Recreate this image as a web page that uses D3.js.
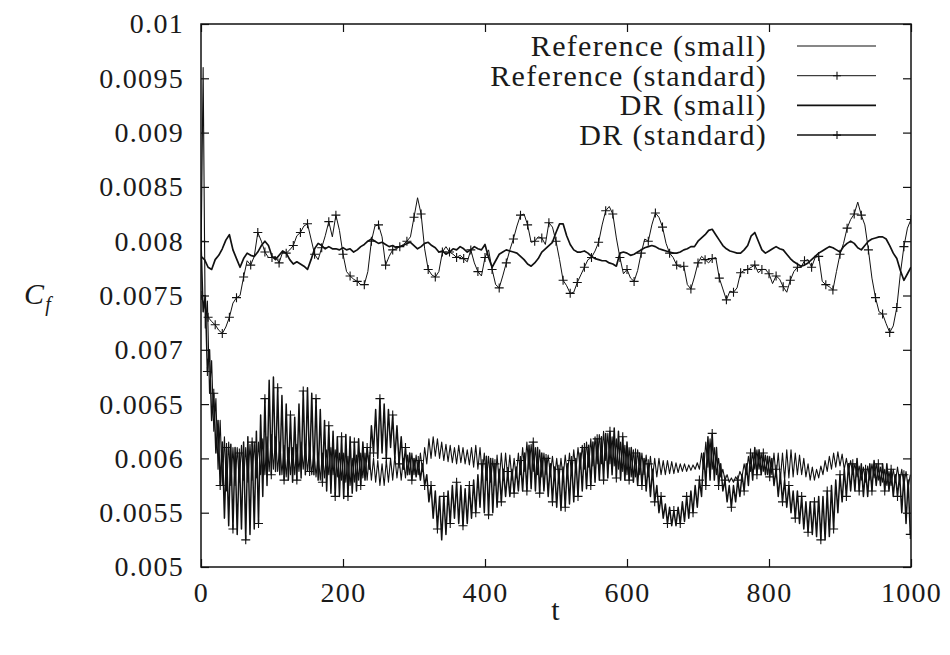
<!DOCTYPE html>
<html>
<head>
<meta charset="utf-8">
<script src="https://cdn.jsdelivr.net/npm/d3@7"></script>
<style>
  body { margin: 0; background: #fff; }
  text { font-family: "Liberation Serif", "Times New Roman", serif; fill: #1a1a1a; letter-spacing: 1.3px; }
</style>
</head>
<body>
<div id="chart"></div>
<script>
// all Cf series are stored as Cf x 10^4
var CF_UNIT = 1e-4;

// upper band, sampled every 5 time units (t = 0 .. 1000)
var drSmall = [
  78.6, 78.3, 77.6, 77.4, 78.3, 78.7, 79.3, 80.1, 80.6, 79.2,
  78.4, 77.6, 78.4, 78.9, 78.7, 78.6, 79.0, 79.6, 80.0, 79.6,
  78.6, 78.3, 78.7, 79.1, 78.9, 78.3, 77.9, 78.1, 77.9, 77.7,
  77.4, 78.3, 79.3, 79.8, 79.6, 79.3, 79.5, 79.3, 79.3, 79.2,
  79.4, 79.2, 79.3, 79.0, 79.2, 79.5, 79.7, 80.0, 80.2, 80.0,
  79.8, 79.9, 79.7, 79.5, 79.6, 79.4, 79.5, 79.6, 79.8, 79.9,
  79.6, 79.3, 79.5, 79.8, 79.9, 79.6, 79.4, 79.0, 79.1, 78.8,
  79.0, 79.3, 79.2, 79.5, 79.3, 79.0, 79.2, 79.5, 79.3, 79.2,
  79.7, 78.5, 77.6, 78.2, 78.8, 79.0, 79.2, 79.1, 79.0, 78.9,
  78.6, 78.3, 77.9, 77.7, 78.0, 78.4, 79.0, 79.3, 79.6, 79.9,
  80.8, 81.6, 81.6, 80.5, 79.7, 79.2, 79.0, 79.0, 79.1, 78.9,
  78.6, 78.4, 78.3, 78.2, 78.2, 78.0, 77.9, 77.7, 78.9, 79.0,
  78.9, 78.7, 78.8, 79.0, 79.2, 79.4, 79.5, 79.6, 79.5, 79.3,
  79.2, 79.1, 79.0, 78.9, 78.9, 79.0, 79.2, 79.3, 79.5, 79.5,
  80.0, 80.3, 80.6, 81.0, 81.1, 80.6, 80.1, 79.6, 79.3, 79.1,
  79.0, 78.9, 78.9, 79.2, 79.6, 80.5, 80.8, 80.0, 79.2, 78.9,
  79.1, 79.3, 79.5, 79.3, 79.2, 78.8, 78.4, 78.1, 77.9, 77.7,
  77.8, 78.0, 78.3, 78.6, 78.9, 79.1, 79.3, 79.5, 79.4, 79.2,
  79.0, 79.5, 79.8, 80.0, 79.8, 79.4, 79.2, 79.6, 80.0, 80.2,
  80.3, 80.4, 80.4, 80.2, 79.6, 78.9, 78.4, 77.3, 76.4, 77.0,
  77.6
];

var refStandard = [
  75.0, 74.0, 73.0, 72.6, 72.3, 71.8, 71.5, 72.1, 73.0, 74.3,
  74.8, 75.0, 76.7, 78.2, 77.8, 78.6, 80.8, 80.0, 79.0, 78.5,
  78.5, 78.6, 78.0, 79.0, 78.9, 79.2, 79.6, 80.5, 80.8, 81.4,
  81.6, 80.2, 78.8, 78.3, 79.4, 80.5, 81.8, 80.4, 82.4, 81.0,
  78.8, 77.2, 76.8, 76.5, 76.3, 76.0, 76.0, 77.2, 80.0, 81.4,
  81.5, 80.4, 77.8, 78.6, 79.2, 79.3, 79.5, 79.7, 80.0, 80.4,
  82.2, 84.0, 82.5, 79.3, 77.4, 76.9, 76.7, 77.2, 79.0, 79.5,
  79.0, 78.8, 78.5, 78.7, 78.4, 78.1, 79.2, 78.0, 77.2, 76.8,
  78.5, 79.2, 77.4, 76.0, 75.7, 76.8, 78.0, 79.2, 80.2, 81.4,
  82.4, 82.5, 81.5, 79.9, 80.0, 80.4, 80.3, 79.7, 81.7, 81.3,
  80.0, 78.3, 76.4, 75.9, 75.2, 75.3, 76.2, 76.9, 77.6, 78.3,
  78.5, 79.1, 79.9, 81.5, 82.8, 83.2, 82.5, 80.3, 78.5, 77.0,
  77.4, 76.6, 76.3, 77.3, 78.9, 80.2, 80.0, 81.5, 82.6, 82.2,
  81.3, 79.8, 78.9, 78.5, 77.8, 77.6, 77.7, 76.0, 75.6, 76.7,
  78.0, 78.6, 78.3, 78.0, 78.4, 78.5, 76.6, 75.6, 74.6, 75.4,
  75.3, 75.7, 77.1, 77.3, 77.4, 77.6, 77.8, 77.1, 77.4, 77.4,
  77.0, 76.1, 76.8, 76.5, 75.8, 75.3, 76.4, 77.2, 77.6, 77.6,
  78.2, 78.3, 77.6, 78.5, 78.6, 76.3, 76.0, 75.8, 75.5, 77.2,
  78.8, 79.8, 81.2, 82.0, 82.5, 83.6, 82.4, 81.5, 79.2, 76.6,
  74.8, 73.5, 73.3, 72.4, 71.6, 72.2, 73.9, 77.0, 79.5, 81.2,
  82.0
];

// lower band, sampled every 3 time units (t = 0 .. 999)
var drStandard = [
  80.0, 73.5, 75.0, 68.0, 70.0, 63.5, 66.0, 60.5, 63.5, 57.5,
  61.5, 54.5, 61.0, 53.8, 61.3, 53.5, 61.0, 53.0, 60.5, 53.5,
  61.5, 52.5, 62.0, 53.0, 61.5, 53.5, 62.5, 54.0, 64.0, 56.5,
  65.5, 57.5, 67.2, 58.5, 67.5, 58.8, 66.5, 58.5, 65.8, 58.0,
  65.0, 58.0, 64.0, 57.8, 63.8, 58.0, 65.0, 58.2, 66.2, 58.5,
  66.5, 58.8, 66.0, 58.5, 65.5, 58.0, 64.5, 57.8, 63.5, 57.0,
  63.0, 56.8, 62.5, 56.5, 62.0, 56.5, 62.0, 56.3, 62.2, 56.5,
  62.0, 56.8, 61.5, 57.0, 61.8, 57.5, 61.5, 58.0, 61.0, 59.0,
  63.0, 60.5, 64.5, 60.0, 65.5, 60.5, 65.0, 60.0, 64.5, 61.0,
  64.0, 60.0, 63.0, 59.5, 62.0, 59.0, 61.0, 58.5, 60.5, 58.0,
  60.0, 58.3, 59.8, 58.0, 59.5, 57.5, 58.5, 56.0, 57.5, 54.5,
  57.0, 53.5, 56.5, 52.5, 56.5, 53.0, 57.0, 54.0, 57.5, 54.5,
  57.8, 54.0, 57.5, 53.8, 57.2, 54.0, 57.5, 54.5, 58.0, 55.0,
  58.5, 55.5, 59.5, 55.0, 60.2, 54.8, 60.0, 55.0, 59.5, 55.5,
  59.0, 56.0, 59.0, 56.5, 58.8, 56.5, 59.0, 56.8, 59.2, 57.0,
  59.8, 57.0, 60.5, 57.0, 61.2, 57.2, 61.5, 57.0, 61.0, 56.8,
  60.5, 57.0, 60.0, 56.5, 59.5, 56.0, 59.2, 55.5, 59.0, 55.2,
  59.2, 55.5, 59.5, 55.8, 59.8, 56.0, 60.0, 56.5, 60.5, 57.0,
  61.0, 57.2, 61.2, 57.5, 61.5, 57.8, 61.8, 58.0, 62.0, 58.0,
  62.3, 58.2, 62.5, 58.5, 62.8, 58.2, 62.5, 58.0, 62.0, 58.0,
  61.5, 58.0, 61.0, 57.8, 60.5, 57.5, 60.5, 57.5, 60.0, 57.0,
  59.5, 56.5, 59.0, 56.0, 57.5, 55.0, 56.5, 54.5, 55.8, 54.0,
  55.5, 53.8, 55.2, 53.8, 55.5, 54.0, 56.0, 54.2, 56.5, 54.5,
  57.0, 55.0, 57.5, 55.5, 58.0, 56.5, 60.5, 57.5, 62.0, 58.0,
  62.3, 58.0, 61.0, 57.5, 59.5, 57.0, 58.0, 56.0, 57.5, 55.5,
  57.5, 56.0, 58.0, 56.5, 58.5, 57.0, 59.5, 57.5, 60.5, 58.0,
  61.0, 58.5, 60.8, 58.5, 60.5, 58.5, 60.2, 58.3, 60.0, 57.5,
  59.0, 56.5, 58.5, 56.0, 58.0, 55.5, 57.5, 55.0, 57.0, 54.5,
  57.0, 54.0, 56.5, 53.5, 56.0, 53.2, 56.0, 53.0, 56.0, 52.8,
  56.5, 52.5, 56.5, 52.5, 57.0, 52.8, 57.5, 53.5, 58.0, 55.0,
  58.5, 56.0, 59.0, 56.5, 59.5, 57.0, 59.5, 57.0, 60.0, 57.0,
  59.5, 56.5, 59.0, 56.5, 59.5, 57.0, 59.8, 57.5, 59.5, 57.5,
  59.5, 57.0, 59.5, 57.0, 59.0, 56.5, 58.5, 56.5, 58.5, 55.0,
  58.5, 54.0, 58.0, 53.0
];

var refSmall = [
  78.0, 96.0, 72.0, 74.5, 66.0, 69.0, 62.5, 65.5, 59.0, 63.5,
  57.5, 62.0, 57.0, 61.5, 57.5, 61.0, 57.5, 61.0, 57.8, 61.2,
  58.0, 61.0, 57.8, 61.3, 58.0, 61.5, 58.2, 61.5, 58.5, 61.8,
  58.5, 62.0, 58.8, 62.2, 59.0, 62.0, 58.8, 61.5, 58.5, 61.2,
  58.3, 61.0, 58.5, 61.0, 58.5, 61.3, 58.8, 61.5, 59.0, 61.2,
  58.8, 61.0, 58.5, 60.8, 58.3, 60.5, 58.0, 60.5, 58.2, 60.8,
  58.5, 61.0, 58.5, 60.8, 58.3, 60.5, 58.0, 60.5, 57.8, 60.2,
  57.5, 60.0, 57.8, 60.3, 58.0, 60.5, 58.2, 60.5, 58.0, 60.3,
  58.0, 60.0, 57.8, 59.8, 57.5, 59.5, 57.5, 59.8, 57.8, 60.0,
  58.0, 60.2, 58.2, 60.0, 58.0, 60.0, 58.2, 60.3, 58.5, 60.5,
  58.5, 60.3, 58.5, 60.5, 58.8, 61.0, 59.5, 61.8, 60.0, 62.0,
  60.2, 61.8, 60.0, 61.5, 59.8, 61.3, 59.7, 61.2, 59.6, 61.0,
  59.5, 61.2, 59.6, 61.0, 59.5, 60.8, 59.4, 61.0, 59.2, 61.2,
  59.0, 61.0, 58.5, 60.5, 58.0, 60.2, 57.8, 60.0, 57.5, 60.3,
  57.8, 60.5, 58.0, 60.5, 58.2, 60.3, 58.0, 60.0, 58.2, 60.5,
  58.5, 61.0, 58.8, 61.5, 59.0, 61.3, 58.8, 61.0, 58.5, 60.8,
  58.3, 60.5, 58.5, 60.3, 58.5, 60.2, 58.3, 60.0, 58.0, 60.0,
  58.2, 60.3, 58.5, 60.5, 58.5, 60.8, 58.8, 61.0, 59.0, 61.2,
  59.0, 61.5, 59.2, 61.8, 59.3, 62.0, 59.5, 62.2, 59.5, 62.5,
  59.8, 62.3, 59.5, 62.0, 59.3, 61.8, 59.0, 61.5, 58.8, 61.2,
  58.5, 61.0, 58.3, 60.8, 58.3, 60.8, 58.5, 60.5, 58.5, 60.3,
  58.3, 60.2, 58.2, 60.0, 58.3, 60.0, 58.5, 59.8, 58.5, 59.8,
  58.6, 59.7, 58.6, 59.6, 58.7, 59.5, 58.8, 59.5, 58.8, 59.4,
  58.9, 59.4, 59.0, 59.6, 59.0, 60.5, 59.0, 61.5, 59.2, 61.8,
  59.0, 61.0, 58.5, 60.0, 58.3, 59.0, 58.0, 58.5, 57.8, 58.2,
  57.8, 58.3, 58.0, 58.8, 58.3, 59.5, 58.5, 60.2, 58.8, 60.5,
  59.0, 60.8, 59.0, 60.5, 58.8, 60.3, 58.5, 60.2, 58.5, 60.5,
  58.3, 60.5, 58.0, 60.5, 58.0, 60.8, 58.2, 60.8, 58.3, 60.5,
  58.5, 60.3, 58.5, 60.0, 58.3, 59.5, 58.0, 59.2, 58.0, 59.0,
  58.2, 59.3, 58.5, 59.8, 58.8, 60.2, 59.0, 60.5, 59.2, 60.6,
  59.3, 60.4, 59.0, 60.0, 58.8, 59.8, 58.5, 59.5, 58.3, 59.3,
  58.0, 59.2, 57.8, 59.3, 58.0, 59.5, 58.2, 59.5, 58.0, 59.2,
  57.8, 59.0, 57.5, 58.8, 57.5, 59.0, 57.8, 59.2, 57.8, 59.0,
  57.5, 58.8, 57.3, 58.5
];

var xTicks = [0, 200, 400, 600, 800, 1000];
var yTicks = [0.005, 0.0055, 0.006, 0.0065, 0.007, 0.0075, 0.008, 0.0085, 0.009, 0.0095, 0.01];
var legendLabels = ["Reference (small)", "Reference (standard)", "DR (small)", "DR (standard)"];

var margin = { top: 24, right: 39, bottom: 88, left: 201 },
  width = 950 - margin.left - margin.right,
  height = 655 - margin.top - margin.bottom;

var series = [
  { name: legendLabels[0], values: refSmall, step: 3, lw: 1.1, markEvery: 0 },
  { name: legendLabels[1], values: refStandard, step: 5, lw: 1.0, markEvery: 2 },
  { name: legendLabels[2], values: drSmall, step: 5, lw: 1.7, markEvery: 0 },
  { name: legendLabels[3], values: drStandard, step: 3, lw: 1.5, markEvery: 3 }
];

var svg = d3
  .select("#chart")
  .append("svg")
  .attr("width", width + margin.left + margin.right)
  .attr("height", height + margin.top + margin.bottom)
  .append("g")
  .attr("transform", "translate(" + margin.left + "," + margin.top + ")");

var x = d3.scaleLinear().domain([0, 1000]).range([0, width]);
var y = d3.scaleLinear().domain([0.005, 0.01]).range([height, 0]);

var fmt = function (d) { return String(+d.toFixed(4)); };

// axes: inward ticks on all four sides, gnuplot style
var axL = svg.append("g").call(d3.axisLeft(y).tickValues(yTicks).tickSize(-8).tickPadding(17).tickFormat(fmt));
var axB = svg.append("g").attr("transform", "translate(0," + height + ")")
  .call(d3.axisBottom(x).tickValues(xTicks).tickSize(-8).tickPadding(15).tickFormat(fmt));
var axR = svg.append("g").attr("transform", "translate(" + width + ",0)")
  .call(d3.axisRight(y).tickValues(yTicks).tickSize(-8).tickFormat(""));
var axT = svg.append("g")
  .call(d3.axisTop(x).tickValues(xTicks).tickSize(-8).tickFormat(""));

[axL, axB, axR, axT].forEach(function (a) {
  a.select(".domain").remove();
  a.selectAll(".tick line").attr("stroke", "#111").attr("stroke-width", 1.2);
  a.selectAll(".tick text").attr("font-size", "28px").attr("fill", "#1a1a1a")
    .attr("font-family", "'Liberation Serif', serif");
});

svg.append("clipPath").attr("id", "clip")
  .append("rect").attr("width", width).attr("height", height);

var line = d3.line()
  .x(function (d) { return x(d.t); })
  .y(function (d) { return y(d.v); });

var plus = function (sel, size) {
  sel.append("path")
    .attr("d", "M" + (-size) + ",0H" + size + "M0," + (-size) + "V" + size)
    .attr("stroke", "#111")
    .attr("stroke-width", 1.1)
    .attr("fill", "none");
};

series.forEach(function (s) {
  var pts = s.values.map(function (v, i) { return { t: i * s.step, v: v * CF_UNIT }; });
  var g = svg.append("g").attr("clip-path", "url(#clip)");
  g.append("path")
    .datum(pts)
    .attr("d", line)
    .attr("fill", "none")
    .attr("stroke", "#111")
    .attr("stroke-width", s.lw)
    .attr("stroke-linejoin", "round");
  if (s.markEvery) {
    g.selectAll("g.mk")
      .data(pts.filter(function (d, i) { return i % s.markEvery === 0; }))
      .enter()
      .append("g")
      .attr("transform", function (d) { return "translate(" + x(d.t) + "," + y(d.v) + ")"; })
      .call(plus, 4.5);
  }
});

// legend, top right inside the frame
var legend = svg.append("g");
series.forEach(function (s, i) {
  var ly = 22 + i * 29.7;
  legend.append("text")
    .attr("x", 566)
    .attr("y", ly)
    .attr("dy", "0.33em")
    .attr("text-anchor", "end")
    .attr("font-size", "30px")
    .text(s.name);
  legend.append("line")
    .attr("x1", 596).attr("x2", 675)
    .attr("y1", ly).attr("y2", ly)
    .attr("stroke", "#111")
    .attr("stroke-width", s.lw);
  if (s.markEvery) {
    legend.append("g").attr("transform", "translate(636," + ly + ")").call(plus, 4);
  }
});

// frame
svg.append("rect")
  .attr("width", width)
  .attr("height", height)
  .attr("fill", "none")
  .attr("stroke", "#111")
  .attr("stroke-width", 1.5);

// axis titles
svg.append("text")
  .attr("x", width / 2)
  .attr("y", height + 53)
  .attr("text-anchor", "middle")
  .attr("font-size", "30px")
  .text("t");

var yt = svg.append("text")
  .attr("x", -177)
  .attr("y", height / 2 + 8)
  .attr("font-size", "30px")
  .attr("font-style", "italic");
yt.append("tspan").text("C");
yt.append("tspan").attr("font-size", "20px").attr("dy", 7).text("f");
</script>
</body>
</html>
